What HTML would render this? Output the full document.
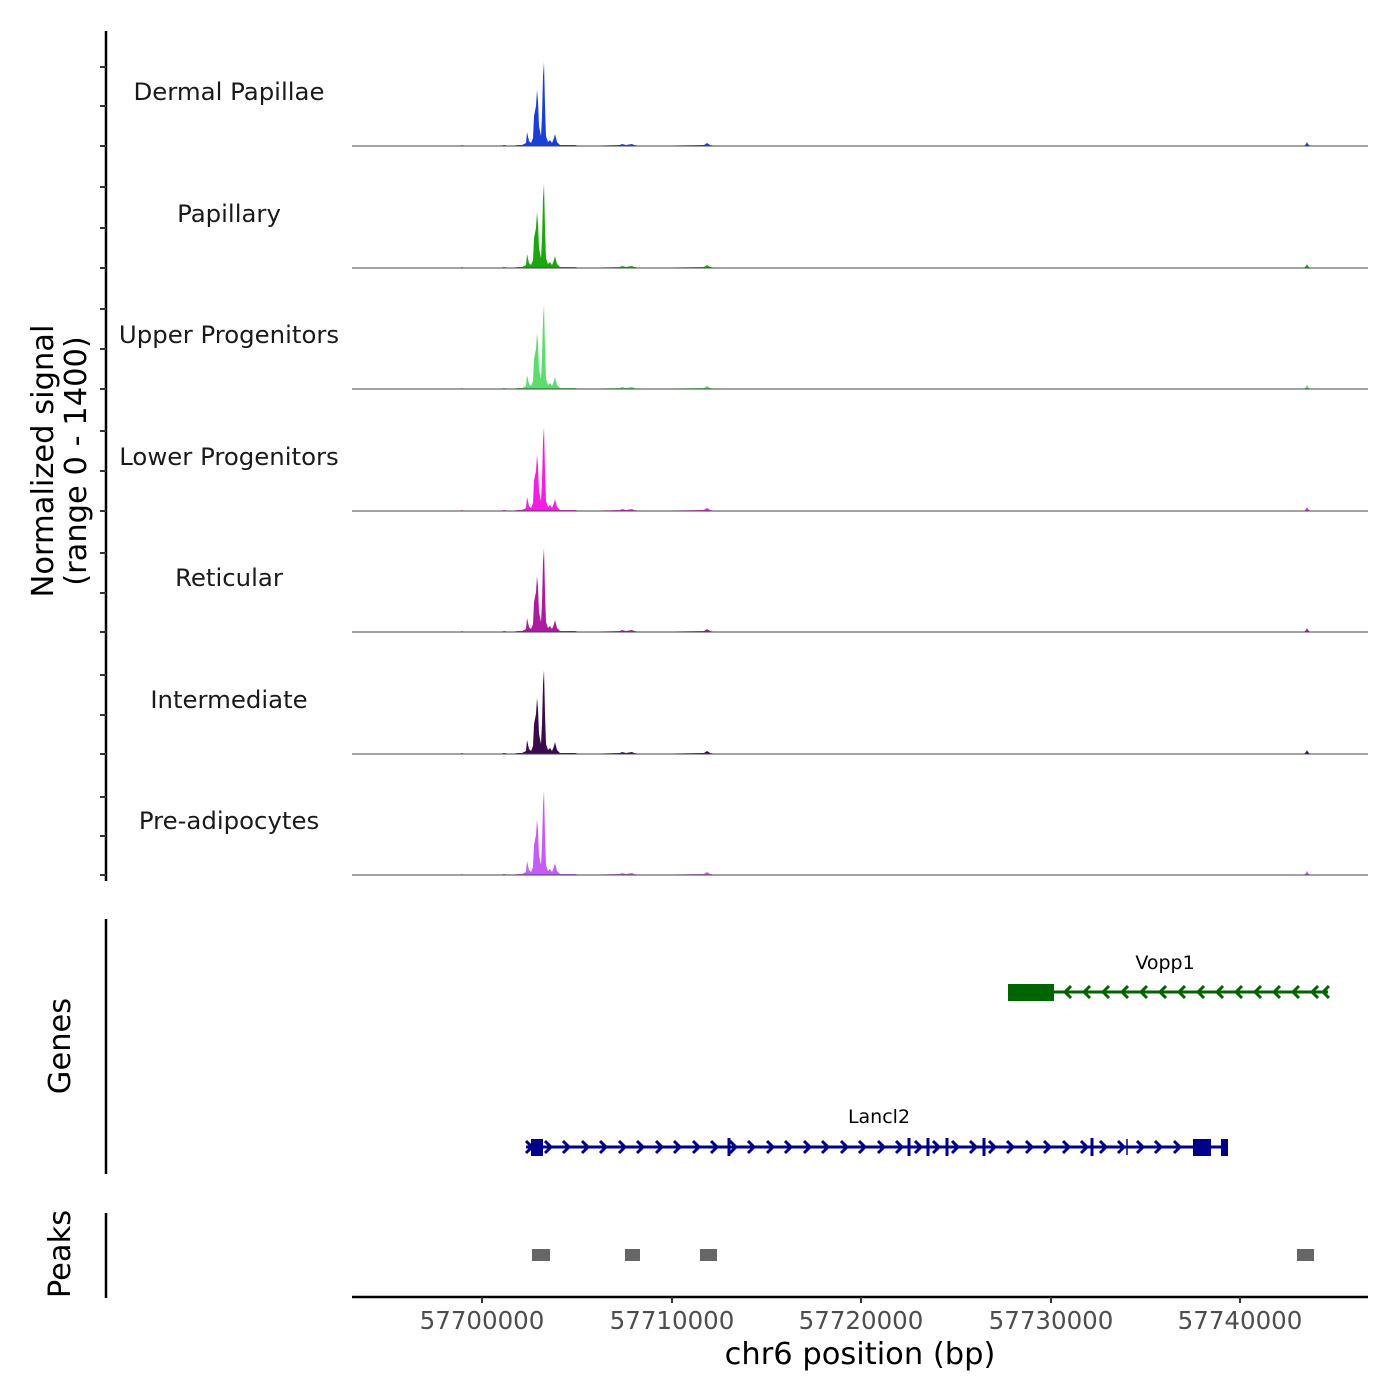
<!DOCTYPE html>
<html><head><meta charset="utf-8"><style>body{margin:0;background:#fff}svg{display:block}text{font-family:"DejaVu Sans","Liberation Sans",sans-serif}</style></head><body>
<svg width="1400" height="1400" viewBox="0 0 1400 1400" xmlns="http://www.w3.org/2000/svg">
<defs>
<path id="pk" d="M352,0 L460,0 462,-1 464,0 500,0 504,-1 510,0 518,-1 522,-1 526,-3 527,-14 529,-5 531,-3 533,-8 534,-30 536,-40 537,-56 538,-45 539,-20 541,-10 542,-30 543,-70 544,-84 545,-40 546,-10 548,-4 550,-6 552,-3 554,-8 555,-12 557,-4 560,-1 575,-1 580,0 620,-1 622,-2 626,-1 632,-2 634,-1 640,0 704,-1 707,-3 710,-1 716,0 1304,0 1306,-2 1307,-4 1308,-2 1310,0 1368,0 Z"/>
</defs>
<g>
<use href="#pk" transform="translate(0,146)" fill="#1a3fd8"/>
<use href="#pk" transform="translate(0,268)" fill="#1aa80e"/>
<use href="#pk" transform="translate(0,389)" fill="#5bdc6b"/>
<use href="#pk" transform="translate(0,511)" fill="#f21ee2"/>
<use href="#pk" transform="translate(0,632)" fill="#ad1a9f"/>
<use href="#pk" transform="translate(0,754)" fill="#3a0a4d"/>
<use href="#pk" transform="translate(0,875)" fill="#c45cf5"/>
<g stroke="#444" stroke-width="1">
<line x1="352" x2="1368" y1="146" y2="146"/><line x1="352" x2="1368" y1="268" y2="268"/><line x1="352" x2="1368" y1="389" y2="389"/><line x1="352" x2="1368" y1="511" y2="511"/><line x1="352" x2="1368" y1="632" y2="632"/><line x1="352" x2="1368" y1="754" y2="754"/><line x1="352" x2="1368" y1="875" y2="875"/>
</g>
</g>
<g font-size="24.4" fill="#1a1a1a" text-anchor="middle">
<text x="229" y="100">Dermal Papillae</text>
<text x="229" y="222">Papillary</text>
<text x="229" y="343">Upper Progenitors</text>
<text x="229" y="465">Lower Progenitors</text>
<text x="229" y="586">Reticular</text>
<text x="229" y="708">Intermediate</text>
<text x="229" y="829">Pre-adipocytes</text>
</g>
<g stroke="#000" stroke-width="2.5">
<line x1="106" x2="106" y1="31" y2="881"/>
<line x1="106" x2="106" y1="919" y2="1174"/>
<line x1="106" x2="106" y1="1213" y2="1298"/>
</g>
<g stroke="#333" stroke-width="2">
<path d="M100,67h6M100,106h6M100,146h6M100,187h6M100,228h6M100,268h6M100,309h6M100,349h6M100,389h6M100,431h6M100,471h6M100,511h6M100,553h6M100,593h6M100,632h6M100,675h6M100,715h6M100,754h6M100,797h6M100,836h6M100,875h6"/>
</g>
<g font-size="30.5" fill="#000" text-anchor="middle">
<text transform="translate(53,461) rotate(-90)">Normalized signal</text>
<text transform="translate(86,461) rotate(-90)">(range 0 - 1400)</text>
<text transform="translate(70,1046) rotate(-90)">Genes</text>
<text transform="translate(70,1254) rotate(-90)">Peaks</text>
</g>
<g stroke="#006400" fill="none" stroke-width="3">
<line x1="1008" x2="1328" y1="992" y2="992"/>
<path d="M1071,986l-6,6 6,6M1090,986l-6,6 6,6M1109,986l-6,6 6,6M1128,986l-6,6 6,6M1147,986l-6,6 6,6M1166,986l-6,6 6,6M1185,986l-6,6 6,6M1204,986l-6,6 6,6M1223,986l-6,6 6,6M1242,986l-6,6 6,6M1261,986l-6,6 6,6M1280,986l-6,6 6,6M1299,986l-6,6 6,6M1318,986l-6,6 6,6M1329,986l-6,6 6,6"/>
</g>
<rect x="1008" y="984" width="46" height="17" fill="#006400"/>
<text x="1165" y="969" font-size="19" text-anchor="middle" fill="#000">Vopp1</text>
<g stroke="#00008b" fill="none" stroke-width="3">
<line x1="526" x2="1228" y1="1147" y2="1147"/>
<path d="M526,1141l6,6 -6,6M545,1141l6,6 -6,6M563,1141l6,6 -6,6M582,1141l6,6 -6,6M600,1141l6,6 -6,6M619,1141l6,6 -6,6M637,1141l6,6 -6,6M656,1141l6,6 -6,6M674,1141l6,6 -6,6M693,1141l6,6 -6,6M711,1141l6,6 -6,6M730,1141l6,6 -6,6M748,1141l6,6 -6,6M767,1141l6,6 -6,6M785,1141l6,6 -6,6M804,1141l6,6 -6,6M822,1141l6,6 -6,6M841,1141l6,6 -6,6M859,1141l6,6 -6,6M878,1141l6,6 -6,6M896,1141l6,6 -6,6M915,1141l6,6 -6,6M933,1141l6,6 -6,6M952,1141l6,6 -6,6M970,1141l6,6 -6,6M989,1141l6,6 -6,6M1007,1141l6,6 -6,6M1026,1141l6,6 -6,6M1044,1141l6,6 -6,6M1063,1141l6,6 -6,6M1081,1141l6,6 -6,6M1100,1141l6,6 -6,6M1118,1141l6,6 -6,6M1137,1141l6,6 -6,6M1155,1141l6,6 -6,6M1174,1141l6,6 -6,6"/>
<path d="M729,1138v18M909,1138v18M928,1138v18M947,1138v18M984,1138v18M1092,1138v18"/>
<path d="M1127,1139v16" stroke-width="1.5"/>
</g>
<g fill="#00008b">
<rect x="531" y="1139" width="12" height="17"/>
<rect x="1193" y="1139" width="18" height="17"/>
<rect x="1221" y="1139" width="7" height="17"/>
</g>
<text x="879" y="1123" font-size="19" text-anchor="middle" fill="#000">Lancl2</text>
<g fill="#666">
<rect x="532" y="1249" width="18" height="12"/>
<rect x="625" y="1249" width="15" height="12"/>
<rect x="700" y="1249" width="17" height="12"/>
<rect x="1297" y="1249" width="17" height="12"/>
</g>
<line x1="352" x2="1368" y1="1297" y2="1297" stroke="#000" stroke-width="2.5"/>
<path d="M482,1297v6M672,1297v6M861,1297v6M1051,1297v6M1240,1297v6" stroke="#333" stroke-width="2"/>
<g font-size="24.5" fill="#4d4d4d" text-anchor="middle">
<text x="482" y="1329">57700000</text>
<text x="672" y="1329">57710000</text>
<text x="861" y="1329">57720000</text>
<text x="1051" y="1329">57730000</text>
<text x="1240" y="1329">57740000</text>
</g>
<text x="860" y="1364" font-size="30.5" text-anchor="middle" fill="#000">chr6 position (bp)</text>
</svg>
</body></html>
